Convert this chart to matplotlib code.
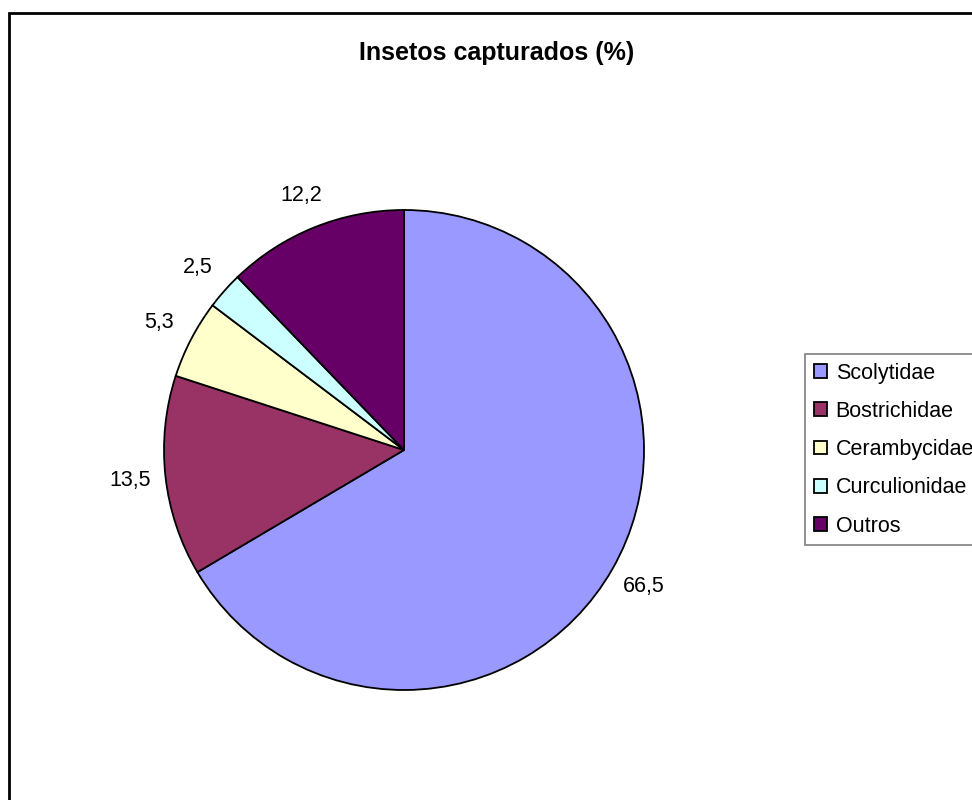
import numpy as np
import matplotlib.pyplot as plt
from matplotlib.patches import Rectangle

plt.rcParams['font.family'] = ['Liberation Sans', 'DejaVu Sans']

familias = ['Scolytidae', 'Bostrichidae', 'Cerambycidae', 'Curculionidae', 'Outros']
percentuais = [66.5, 13.5, 5.3, 2.5, 12.2]
cores = ['#9999FF', '#993366', '#FFFFCC', '#CCFFFF', '#660066']

fig = plt.figure(figsize=(9.72, 8), dpi=100)

# moldura do grafico (cortada a direita e embaixo)
fig.patches.append(Rectangle((9/972, -0.1), 1.2, 1.1 - 13/800,
                             transform=fig.transFigure, fill=False,
                             edgecolor='black', linewidth=2, zorder=10))

ax = fig.add_axes([0.107, 0.0625, 600/972, 0.75])
wedges, _ = ax.pie(percentuais, colors=cores, startangle=90, counterclock=False,
                   wedgeprops=dict(edgecolor='black', linewidth=1.3))
ax.set_xlim(-1.25, 1.25)
ax.set_ylim(-1.25, 1.25)
ax.set_aspect('equal')
ax.axis('off')

# rotulos com os valores, fora das fatias
for w, v in zip(wedges, percentuais):
    ang = np.deg2rad((w.theta1 + w.theta2) / 2)
    ax.text(1.15 * np.cos(ang), 1.145 * np.sin(ang), f'{v:.1f}'.replace('.', ','),
            ha='center', va='center', fontsize=15.5)

fig.text(497/972, 1 - 53/800, 'Insetos capturados (%)', ha='center', va='center',
         fontsize=18, fontweight='bold')

leg = fig.legend(wedges, familias, loc='upper left',
                 bbox_to_anchor=(805/972, 1 - 354/800), borderaxespad=0,
                 fontsize=15.5, handlelength=0.6, handleheight=0.6,
                 handletextpad=0.42, labelspacing=0.8, borderpad=0.4,
                 fancybox=False, framealpha=1, edgecolor='#808080')
leg.get_frame().set_linewidth(1.2)

fig.savefig('out.png', dpi=100)
